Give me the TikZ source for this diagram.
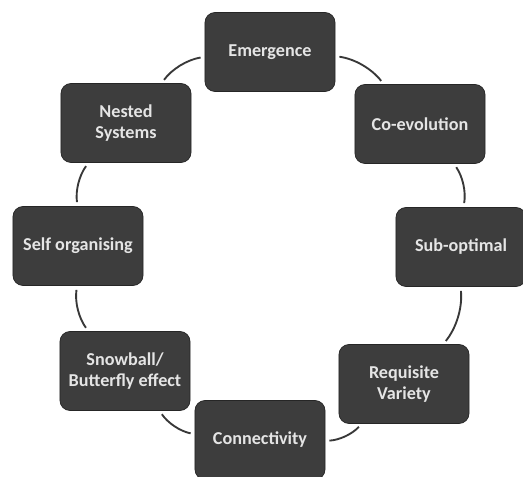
\documentclass[tikz,border=0pt]{standalone}
\usepackage{fontspec}
\setmainfont{Carlito}
\usetikzlibrary{arrows}

\begin{document}
\begin{tikzpicture}[x=0.03cm, y=0.03cm,
  feld/.style={rectangle, rounded corners=0.3cm, minimum width=3.9cm, minimum height=2.37cm,
    fill=black!76, draw=black!85, line width=0.6pt, text=white!90!black, align=center,
    font=\fontsize{15.5}{17.5}\selectfont\bfseries},
  bogen/.style={draw=black!78, line width=1.6pt, shorten <=3.5pt, shorten >=3.5pt, looseness=0.9}]
\useasboundingbox (0,0) rectangle (523,477);
  \node [feld,name=emergence]    at (270,425) {Emergence};
  \node [feld,name=coevolution]  at (420,353) {Co-evolution};
  \node [feld,name=suboptimal]   at (461,230) {Sub-optimal};
  \node [feld,name=requisite]    at (404,93)  {Requisite\\Variety};
  \node [feld,name=connectivity] at (260,37)  {Connectivity};
  \node [feld,name=snowball]     at (125,106) {Snowball/\\Butterfly effect};
  \node [feld,name=selforg]      at (78,231)  {Self organising};
  \node [feld,name=nested]       at (126,354) {Nested\\Systems};
  % Kreis aus Boegen
  \draw [bogen](emergence) to [bend left=22] (coevolution);
  \draw [bogen](coevolution) to [bend left=22] (suboptimal);
  \draw [bogen](suboptimal) to [bend left=22] (requisite);
  \draw [bogen](requisite) to [bend left=22] (connectivity);
  \draw [bogen](connectivity) to [bend left=22] (snowball);
  \draw [bogen](snowball) to [bend left=22] (selforg);
  \draw [bogen](selforg) to [bend left=22] (nested);
  \draw [bogen](nested) to [bend left=22] (emergence);
\end{tikzpicture}
\end{document}
